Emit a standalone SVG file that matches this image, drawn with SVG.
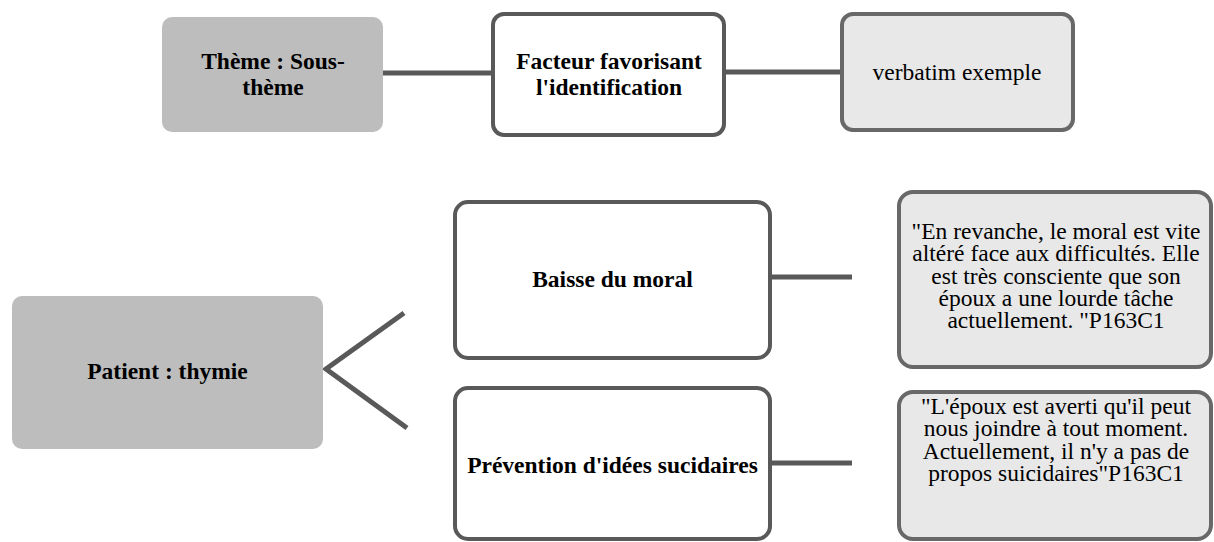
<svg xmlns="http://www.w3.org/2000/svg" width="1214" height="542" viewBox="0 0 1214 542">
<style>
.gray{fill:#bdbdbd;stroke:none}
.white{fill:#ffffff;stroke:#595959;stroke-width:4}
.verb{fill:#e8e8e8;stroke:#686868;stroke-width:4}
.b{font-family:"Liberation Serif",serif;font-weight:bold;font-size:23.5px;fill:#000;text-anchor:middle}
.r{font-family:"Liberation Serif",serif;font-size:23.5px;fill:#000;text-anchor:middle}
.conn{stroke:#595959;stroke-width:5;fill:none}
</style>
<rect width="1214" height="542" fill="#ffffff"/>
<g id="connectors">
<line class="conn" x1="383" y1="73" x2="493" y2="73"/>
<line class="conn" x1="726" y1="72" x2="842" y2="72"/>
<polyline class="conn" points="404,313 326,369 407,428"/>
<line class="conn" x1="771" y1="277" x2="852" y2="277"/>
<line class="conn" x1="771" y1="463" x2="852" y2="463"/>
</g>
<g id="theme">
<rect class="gray" x="162" y="17" width="221" height="115" rx="10"/>
<text class="b" x="273" y="69">Thème : Sous-</text>
<text class="b" x="273" y="95">thème</text>
</g>
<g id="facteur">
<rect class="white" x="493" y="14" width="231" height="121" rx="11"/>
<text class="b" x="609" y="69">Facteur favorisant</text>
<text class="b" x="609" y="94.5">l'identification</text>
</g>
<g id="verbatim">
<rect class="verb" x="842" y="14" width="231" height="116" rx="11"/>
<text class="r" x="957" y="80">verbatim exemple</text>
</g>
<g id="patient">
<rect class="gray" x="12" y="296" width="311" height="153" rx="10"/>
<text class="b" x="167.5" y="379">Patient : thymie</text>
</g>
<g id="baisse">
<rect class="white" x="455" y="202" width="315" height="156" rx="13"/>
<text class="b" x="612.5" y="287">Baisse du moral</text>
</g>
<g id="prevention">
<rect class="white" x="455" y="388" width="315" height="151" rx="13"/>
<text class="b" x="612.5" y="473">Prévention d'idées sucidaires</text>
</g>
<g id="verbatim1">
<rect class="verb" x="899" y="192" width="312" height="175" rx="14"/>
<text class="r" x="1056" y="239">"En revanche, le moral est vite</text>
<text class="r" x="1056" y="261.3">altéré face aux difficultés. Elle</text>
<text class="r" x="1056" y="283.6">est très consciente que son</text>
<text class="r" x="1056" y="305.9">époux a une lourde tâche</text>
<text class="r" x="1056" y="328.2">actuellement. "P163C1</text>
</g>
<g id="verbatim2">
<rect class="verb" x="899" y="392" width="312" height="147" rx="14"/>
<text class="r" x="1056" y="414">"L'époux est averti qu'il peut</text>
<text class="r" x="1056" y="436.3">nous joindre à tout moment.</text>
<text class="r" x="1056" y="458.6">Actuellement, il n'y a pas de</text>
<text class="r" x="1056" y="480.9">propos suicidaires"P163C1</text>
</g>
</svg>
